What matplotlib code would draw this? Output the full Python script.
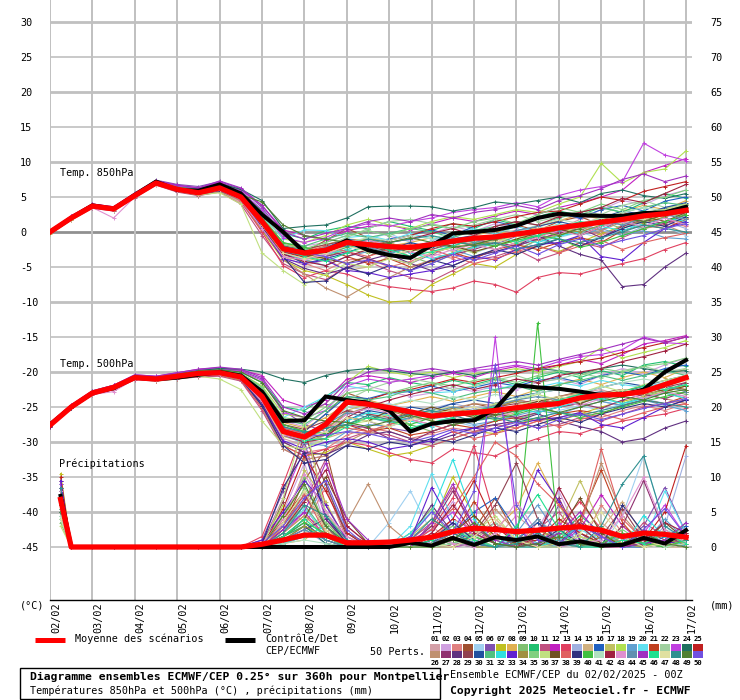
import numpy as np
import matplotlib
matplotlib.use("Agg")
import matplotlib.pyplot as plt
from matplotlib.lines import Line2D
from matplotlib.patches import Rectangle

W, H = 740, 700
MONO = "DejaVu Sans Mono"

# ---------------- data ----------------
days = np.arange(0, 15.01, 0.5)                       # 12-hourly steps from 02/02 00Z
precip_days = np.array([0.25] + list(np.arange(0.5, 15.01, 0.5)))
date_labels = ["02/02", "03/02", "04/02", "05/02", "06/02", "07/02", "08/02", "09/02",
               "10/02", "11/02", "12/02", "13/02", "14/02", "15/02", "16/02", "17/02"]
left_ticks = list(range(-45, 31, 5))
right_ticks = list(range(0, 76, 5))

mean_850 = [0.0, 2.0, 3.7, 3.3, 5.2, 7.0, 6.1, 5.6, 6.3, 5.0, 1.5, -2.4, -3.0, -2.6, -1.5, -1.8,
            -2.1, -2.2, -1.8, -1.3, -0.9, -0.7, -0.3, 0.1, 0.6, 1.0, 1.4, 1.8, 2.3, 2.6, 3.1]
ctrl_850 = [0.0, 2.0, 3.8, 3.3, 5.3, 7.2, 6.0, 5.9, 6.8, 5.5, 2.5, 0.0, -2.9, -2.7, -1.2, -2.6,
            -3.3, -3.7, -1.9, -0.2, 0.0, 0.3, 0.9, 2.0, 2.6, 2.4, 2.3, 2.3, 2.7, 2.8, 3.6]
mean_500 = [-27.6, -25.0, -23.0, -22.2, -20.8, -21.0, -20.6, -20.2, -20.1, -20.7, -23.5, -28.5,
            -29.3, -27.5, -24.3, -24.6, -25.1, -25.7, -26.3, -26.0, -25.8, -25.5, -25.1, -24.8,
            -24.5, -23.7, -23.3, -23.2, -22.8, -21.8, -20.8]
ctrl_500 = [-27.5, -25.0, -23.0, -22.3, -20.8, -21.0, -20.8, -20.4, -20.0, -20.5, -22.8, -27.0,
            -26.9, -23.5, -24.0, -24.4, -25.5, -28.5, -27.4, -27.0, -26.9, -25.3, -21.9, -22.2,
            -22.4, -22.8, -23.3, -23.3, -22.5, -20.0, -18.3]
mean_rr = [6.8, 0, 0, 0, 0, 0, 0, 0, 0, 0, 0.4, 1.0, 1.7, 1.7, 0.6, 0.6, 0.7, 1.0, 1.4, 2.2, 2.7,
           2.5, 2.2, 2.4, 2.7, 2.9, 2.4, 1.5, 2.0, 1.8, 1.4]
ctrl_rr = [7.3, 0, 0, 0, 0, 0, 0, 0, 0, 0, 0, 0, 0, 0, 0, 0, 0, 0.6, 0.2, 1.3, 0.3, 1.4, 1.0, 1.5,
           0.4, 0.8, 0.2, 0.3, 1.3, 0.5, 2.4]

members_850 = [
    [-0.1, 1.8, 3.5, 3.0, 5.0, 6.8, 5.9, 5.2, 5.8, 4.2, 0.5, -3.5, -4.8, -4.0, -2.0, -2.5, -3.5, -2.8, -1.5, -1.0, -1.8, -0.5, 0.3, -0.8, 0.5, 1.8, 2.5, 1.2, 2.0, 3.5, 4.0],
    [0.1, 2.2, 3.9, 3.5, 5.4, 7.2, 6.4, 5.9, 6.6, 5.4, 2.0, -1.8, -2.0, -1.5, -0.5, 0.2, -0.6, -1.3, -0.2, 0.8, 0.1, 1.2, 0.6, 2.1, 2.9, 1.8, 3.2, 4.5, 3.9, 5.2, 6.0],
    [0.0, 2.1, 3.6, 3.4, 5.1, 7.1, 6.2, 5.5, 6.0, 4.6, 0.8, -3.0, -4.5, -5.5, -4.0, -3.8, -5.0, -4.2, -3.0, -3.8, -2.2, -1.5, -2.8, -1.0, -0.4, 0.8, -0.5, 1.0, 2.2, 1.5, 0.8],
    [-0.2, 1.9, 3.8, 3.2, 5.3, 6.9, 6.0, 5.7, 6.4, 5.2, 1.8, -2.2, -2.9, -1.2, 0.5, -0.8, -1.5, -2.8, -1.8, -0.6, 0.4, -0.3, 1.0, 0.2, 1.5, 2.2, 1.0, 2.8, 2.0, 3.0, 2.5],
    [0.2, 2.0, 3.7, 3.3, 5.3, 7.0, 6.5, 6.0, 6.7, 5.5, 1.2, -2.7, -4.0, -3.0, -2.2, -1.0, -0.2, -1.5, -2.5, -1.8, -3.0, -2.0, -1.2, -2.2, -0.8, 0.0, -1.0, 0.5, 1.5, 0.8, -0.5],
    [0.0, 2.3, 4.0, 3.6, 5.6, 7.4, 6.8, 6.5, 7.2, 6.2, 3.5, -0.5, -2.2, -2.8, -1.5, -2.5, -3.8, -4.5, -3.2, -2.0, -1.0, -1.8, -0.6, 0.5, -0.2, 1.2, 0.3, 1.8, 3.0, 2.2, 2.8],
    [-0.1, 1.8, 3.5, 3.1, 5.0, 6.8, 5.8, 5.3, 6.0, 4.5, 0.2, -4.0, -5.5, -6.2, -7.5, -9.0, -10.0, -9.8, -7.5, -6.0, -4.5, -5.0, -3.2, -2.0, -2.8, -1.5, -0.2, 0.8, 1.5, 2.5, 3.5],
    [0.1, 2.1, 3.8, 3.5, 5.4, 7.2, 6.3, 5.8, 6.5, 5.3, 2.2, -1.5, -2.6, -1.8, -1.0, -1.2, -2.0, -1.5, -0.8, -1.5, -0.5, 0.2, -0.5, 0.8, 1.6, 2.5, 1.8, 3.0, 3.8, 3.2, 4.5],
    [0.0, 2.0, 3.6, 3.2, 5.2, 6.9, 6.1, 5.6, 6.2, 4.8, 1.0, -3.2, -3.8, -3.5, -2.5, -3.0, -2.2, -3.5, -4.5, -3.2, -2.0, -1.5, -2.5, -1.2, -0.5, 0.2, 1.5, 0.5, 1.8, 2.8, 2.0],
    [0.2, 2.2, 3.9, 3.4, 5.5, 7.3, 6.6, 6.2, 6.9, 5.9, 3.0, -0.2, -1.0, 0.2, 0.8, 0.5, 1.5, 0.8, 0.2, 1.2, 0.5, 1.8, 1.0, 2.2, 3.0, 2.4, 3.5, 2.8, 4.2, 5.5, 4.8],
    [-0.2, 1.7, 3.4, 3.0, 4.9, 6.7, 5.7, 5.2, 5.7, 4.0, -0.5, -4.5, -6.0, -6.8, -5.0, -4.2, -5.5, -6.5, -7.0, -5.5, -4.0, -3.5, -2.5, -4.0, -3.0, -1.5, -2.2, -0.8, 0.5, 1.2, 2.0],
    [0.1, 2.3, 4.0, 3.6, 5.5, 7.3, 6.7, 6.3, 7.1, 6.0, 3.8, 0.3, -0.5, -1.2, 0.2, 0.8, 1.0, 0.3, 1.2, 2.0, 1.5, 2.3, 3.0, 2.5, 3.5, 4.2, 5.0, 6.0, 8.5, 9.5, 10.5],
    [0.0, 2.0, 3.8, 3.4, 5.2, 7.0, 6.0, 5.4, 6.0, 4.4, 0.0, -4.8, -6.5, -5.5, -6.0, -7.2, -7.8, -8.2, -8.5, -8.0, -7.0, -7.5, -8.6, -6.5, -5.8, -6.0, -5.2, -4.5, -3.8, -2.5, -1.5],
    [-0.1, 1.9, 3.6, 3.3, 5.1, 6.9, 6.0, 5.5, 6.1, 4.9, 1.5, -2.5, -3.2, -2.8, -1.8, -2.6, -1.8, -2.5, -1.2, -0.5, -1.5, -0.8, 0.0, -0.6, 0.3, 1.0, 0.2, -0.5, 0.8, 1.5, 0.5],
    [0.1, 2.1, 3.7, 3.4, 5.3, 7.1, 6.2, 5.7, 6.4, 5.1, 1.6, -2.3, -3.3, -3.8, -5.5, -5.0, -3.5, -2.5, -3.0, -2.0, -1.8, -2.5, -1.5, -0.5, 0.5, 1.2, 2.0, 1.5, 2.5, 3.3, 2.0],
    [0.0, 2.0, 3.7, 3.4, 5.2, 7.0, 6.1, 5.4, 6.1, 5.0, 1.4, -2.8, -3.5, -2.2, -1.0, -1.5, -1.0, -0.5, 0.3, -0.5, 0.8, 1.5, 0.8, 2.0, 2.6, 2.0, 3.2, 3.8, 3.0, 4.4, 5.0],
    [-0.3, 1.7, 3.5, 3.1, 5.0, 6.8, 5.9, 5.3, 5.8, 4.5, 0.5, -3.5, -4.2, -3.5, -2.0, -0.8, -1.5, -2.5, -1.8, -2.8, -1.5, -0.8, -1.8, -0.5, 0.2, 1.0, 1.8, 2.5, 1.5, 2.0, 1.2],
    [0.2, 2.2, 3.9, 3.5, 5.4, 7.2, 6.4, 6.0, 6.7, 5.6, 2.5, -1.0, -1.5, -0.5, 1.0, 1.8, 1.0, 0.5, 1.5, 2.2, 1.8, 2.5, 3.2, 2.8, 4.0, 5.0, 9.8, 7.0, 8.5, 9.0, 11.6],
    [0.0, 2.0, 3.6, 3.2, 5.2, 7.0, 6.0, 5.5, 6.2, 4.7, 1.0, -3.0, -4.0, -4.8, -3.5, -2.8, -3.2, -2.0, -1.5, -2.5, -3.5, -2.8, -2.0, -1.0, -1.8, -0.5, 0.5, -0.5, 0.2, -0.8, -1.0],
    [0.1, 2.1, 3.8, 3.4, 5.3, 7.1, 6.3, 5.8, 6.6, 5.4, 2.3, -1.0, 0.3, 0.2, -0.8, -0.5, -1.2, -0.2, -1.0, -0.5, 0.5, -0.3, 0.8, 0.0, 1.2, 0.5, 1.8, 1.0, 0.5, 1.5, 2.2],
    [0.0, 2.0, 3.7, 3.3, 5.2, 7.0, 6.2, 5.6, 6.3, 5.1, 1.4, -2.6, -3.0, -2.5, -3.5, -4.5, -3.8, -5.0, -4.2, -3.0, -3.8, -2.5, -1.8, -2.5, -1.5, -0.8, -1.5, 0.2, 1.0, 0.5, 1.8],
    [-0.1, 1.9, 3.6, 3.3, 5.1, 6.9, 6.0, 5.6, 6.2, 5.0, 1.2, -2.4, -3.4, -2.0, -0.8, 0.5, 1.5, 1.8, 1.2, 0.5, 1.0, 1.8, 2.5, 1.5, 2.2, 3.0, 2.5, 3.8, 4.5, 3.5, 4.0],
    [0.2, 2.2, 3.9, 3.5, 5.5, 7.3, 6.6, 6.1, 7.0, 5.8, 3.2, -0.8, -1.5, -0.8, 0.5, 1.2, 0.8, 1.5, 2.0, 2.8, 3.2, 3.5, 4.2, 3.6, 5.2, 6.0, 6.5, 7.2, 12.7, 11.0, 10.2],
    [0.0, 2.1, 3.8, 3.4, 5.3, 7.1, 6.4, 6.1, 6.9, 6.1, 4.5, 0.5, 0.8, 1.0, 2.0, 3.6, 3.7, 3.7, 3.6, 3.0, 3.5, 4.3, 4.0, 4.5, 5.0, 4.2, 5.5, 6.0, 5.2, 4.8, 5.5],
    [-0.1, 1.9, 3.6, 3.2, 5.1, 6.9, 5.9, 5.4, 6.0, 4.8, 1.0, -2.9, -3.6, -3.0, -1.8, -2.2, -1.2, -0.5, 0.5, 1.2, 0.8, 1.5, 2.2, 2.8, 3.0, 4.0, 5.0, 4.5, 5.8, 6.5, 7.2],
    [0.1, 2.0, 3.7, 3.3, 5.2, 7.0, 6.1, 5.5, 6.1, 4.8, 0.8, -4.0, -6.0, -8.0, -9.3, -7.5, -6.5, -5.0, -4.0, -3.0, -2.0, -1.5, -0.5, -1.2, 0.0, 0.8, 0.2, 1.5, 0.5, 1.0, -0.2],
    [0.0, 2.1, 3.8, 3.4, 5.3, 7.1, 6.3, 5.8, 6.5, 5.2, 1.8, -2.0, -2.8, -3.5, -2.8, -3.8, -4.8, -5.5, -4.0, -3.2, -2.5, -1.5, -2.0, -1.0, -0.2, 0.5, -0.8, 0.8, 1.8, 1.2, 2.5],
    [-0.2, 1.8, 3.5, 3.1, 5.0, 6.8, 5.8, 5.3, 5.9, 4.6, 0.5, -3.8, -5.2, -6.0, -5.2, -4.0, -3.2, -4.5, -5.5, -4.8, -3.5, -2.8, -2.0, -0.5, -2.0, -3.2, -4.0, -7.8, -7.5, -5.0, -3.0],
    [0.1, 2.1, 3.8, 3.4, 5.3, 7.0, 6.2, 5.7, 6.4, 5.2, 1.9, -2.0, -2.5, -1.8, -1.2, -2.0, -2.8, -2.2, -2.5, -1.5, -1.8, -1.0, -0.2, 0.5, 0.0, 1.2, 1.8, 2.5, 2.0, 3.0, 3.8],
    [0.0, 2.0, 3.7, 3.3, 5.2, 7.0, 6.1, 5.6, 6.3, 5.0, 1.3, -3.0, -4.5, -3.8, -3.0, -1.8, -2.5, -1.5, -2.2, -1.0, -0.5, -1.2, 0.2, 0.8, 1.5, 0.8, 2.0, 3.0, 2.5, 3.5, 4.2],
    [0.1, 2.2, 3.9, 3.5, 5.4, 7.2, 6.4, 6.0, 6.7, 5.5, 2.0, -1.6, -2.0, -1.0, -0.2, -0.8, -0.2, 0.5, 0.0, -0.8, 0.2, 0.8, 1.5, 1.0, 2.0, 2.8, 3.5, 2.8, 3.5, 4.2, 3.8],
    [0.0, 2.0, 3.7, 3.3, 5.2, 7.0, 6.2, 5.6, 6.3, 5.1, 1.7, -2.2, -2.5, -3.2, -2.5, -1.5, -2.0, -3.0, -3.8, -3.0, -2.2, -1.8, -1.0, -1.5, -0.6, 0.0, 0.8, 0.2, 1.2, 2.0, 1.5],
    [-0.1, 1.9, 3.6, 3.2, 5.1, 6.9, 6.0, 5.4, 6.1, 4.8, 0.6, -3.8, -4.5, -4.0, -5.5, -5.8, -6.5, -6.0, -5.5, -4.2, -3.5, -4.0, -2.5, -1.8, -1.5, -0.5, -3.5, -4.0, -1.5, 0.5, 1.5],
    [0.0, 2.0, 3.7, 3.3, 5.2, 7.0, 6.1, 5.6, 6.3, 4.9, 1.1, -2.7, -3.3, -2.5, -1.8, -1.0, -1.8, -2.8, -2.0, -1.2, -2.0, -1.2, -0.2, -0.8, 0.5, 0.0, 1.0, 1.8, 1.2, 2.2, 3.0],
    [0.2, 2.1, 3.8, 3.4, 5.3, 7.1, 6.3, 5.9, 6.6, 5.4, 2.1, -1.8, -2.4, -1.5, -0.5, 0.2, -0.5, 0.5, 1.0, 0.5, 1.5, 2.0, 1.2, 2.5, 3.5, 2.8, 4.0, 3.2, 4.5, 5.0, 6.0],
    [0.0, 1.9, 3.6, 3.2, 5.1, 6.8, 5.8, 5.3, 5.6, 4.0, -3.0, -5.5, -7.5, -6.0, -4.5, -5.0, -3.8, -4.5, -3.0, -2.2, -3.0, -1.8, -1.0, 0.2, -0.5, 1.0, 2.0, 1.2, 2.8, 3.2, 4.0],
    [-0.1, 1.9, 3.6, 3.3, 5.1, 6.9, 6.0, 5.6, 6.2, 5.0, 1.3, -2.5, -3.2, -3.8, -4.5, -3.5, -2.2, -2.8, -1.5, -2.0, -2.8, -2.0, -1.0, -0.2, 0.5, -0.5, 0.8, 1.5, 2.2, 1.5, 2.8],
    [0.1, 2.1, 3.8, 3.4, 5.3, 7.1, 6.2, 5.7, 6.4, 5.1, 1.6, -2.2, -2.8, -2.0, -2.8, -3.5, -2.5, -1.8, -2.5, -3.5, -4.5, -3.8, -2.8, -2.0, -3.0, -2.0, -1.2, -2.5, -1.5, -0.8, -0.2],
    [0.0, 2.0, 3.7, 3.3, 5.2, 7.0, 6.1, 5.6, 6.2, 4.9, 0.8, -3.5, -7.2, -7.0, -5.0, -6.0, -4.8, -5.5, -4.0, -4.8, -3.5, -2.5, -3.2, -2.0, -1.0, -2.0, -0.8, 0.5, 1.5, 0.8, 2.2],
    [0.0, 2.1, 3.8, 3.4, 5.3, 7.1, 6.3, 5.8, 6.5, 5.3, 1.9, -1.5, -2.2, -3.0, -2.2, -1.5, -2.0, -2.5, -1.8, -1.0, -1.5, -2.0, -1.2, -0.5, -1.0, -2.2, -1.5, -0.5, 0.5, 1.5, 2.5],
    [-0.1, 1.9, 3.6, 3.2, 5.1, 6.9, 6.0, 5.5, 6.2, 5.0, 1.2, -2.6, -3.0, -2.5, -1.5, -0.8, -1.2, -0.5, -1.0, 0.0, -0.5, 0.5, 0.0, 1.0, 1.8, 1.2, 2.0, 2.8, 3.5, 3.0, 3.8],
    [0.1, 2.0, 3.7, 3.3, 5.2, 7.0, 6.1, 5.6, 6.3, 5.0, 1.0, -3.2, -4.2, -4.8, -3.5, -2.5, -1.5, -1.0, -0.2, 0.5, -0.5, 0.8, 1.5, 1.0, 2.2, 2.8, 3.5, 4.8, 4.2, 5.5, 6.8],
    [0.0, 2.0, 3.5, 2.0, 5.0, 6.8, 5.8, 5.4, 6.0, 4.6, 0.5, -3.5, -4.0, -3.2, -2.0, -1.2, -1.8, -2.8, -3.5, -2.5, -1.8, -2.5, -1.5, -0.8, 0.2, -0.5, 0.8, 1.5, 0.8, 2.0, 1.0],
    [0.0, 2.1, 3.8, 3.4, 5.3, 7.0, 6.2, 5.7, 6.4, 5.0, 1.4, -2.4, -3.0, -2.2, -1.5, -2.2, -3.0, -2.2, -1.5, -0.8, -1.5, -0.8, 0.2, 0.8, 0.2, 1.0, 1.6, 1.0, 2.0, 2.5, 1.8],
    [0.2, 2.2, 3.9, 3.5, 5.5, 7.3, 6.7, 6.3, 7.3, 6.3, 3.8, 0.0, -1.0, -0.2, 0.5, 1.5, 2.0, 1.5, 2.5, 2.0, 2.8, 3.2, 3.8, 3.2, 4.5, 5.2, 6.2, 7.5, 8.3, 7.2, 8.0],
    [0.0, 2.0, 3.7, 3.3, 5.2, 7.0, 6.1, 5.6, 6.3, 5.0, 1.5, -2.5, -3.5, -4.2, -3.0, -2.0, -2.5, -3.5, -2.8, -2.0, -1.0, -0.5, -1.5, -0.5, 0.5, 1.5, 1.0, 2.2, 3.0, 2.5, 3.2],
    [-0.1, 1.9, 3.6, 3.2, 5.1, 6.9, 6.0, 5.5, 6.1, 4.8, 1.0, -3.0, -3.8, -3.0, -2.0, -2.8, -3.5, -2.5, -1.8, -1.2, -0.8, -1.5, -0.5, 0.5, 1.0, 0.5, 1.5, 2.2, 1.8, 2.8, 3.5],
    [0.1, 2.1, 3.8, 3.4, 5.3, 7.1, 6.3, 5.8, 6.5, 5.2, 1.7, -2.0, -2.8, -2.5, -2.0, -1.0, -1.5, -1.0, -0.5, -1.2, -2.0, -1.5, -2.5, -1.8, -1.0, -1.5, -0.8, 0.0, 1.0, 0.5, 0.0],
    [0.0, 2.0, 3.7, 3.3, 5.2, 7.0, 6.2, 5.7, 6.4, 5.3, 4.3, 1.0, -0.5, -1.0, -1.5, -2.0, -1.5, -0.8, -1.5, -2.2, -1.8, -1.0, -0.2, 0.2, -0.5, 0.5, 1.5, 2.0, 1.5, 2.5, 3.0],
    [0.1, 2.1, 3.8, 3.4, 5.3, 7.1, 6.3, 5.8, 6.5, 5.2, 1.6, -2.3, -3.0, -3.5, -4.5, -4.0, -4.8, -5.5, -4.5, -3.2, -4.0, -3.0, -2.0, -3.2, -1.8, -1.0, -2.0, -1.2, -0.5, 0.5, 1.2],
]

members_500 = [
    [-27.8, -25.2, -23.2, -22.5, -21.0, -21.3, -20.9, -20.5, -20.4, -21.0, -24.5, -29.5, -30.5, -29.0, -25.5, -26.0, -26.8, -27.0, -26.5, -25.8, -26.5, -25.5, -24.8, -25.5, -24.0, -23.0, -22.5, -23.5, -22.8, -21.5, -20.5],
    [-27.4, -24.8, -22.9, -22.0, -20.6, -20.9, -20.4, -20.0, -19.9, -20.4, -22.5, -27.0, -27.8, -25.5, -22.5, -22.0, -22.8, -23.5, -23.0, -22.2, -22.8, -22.0, -22.5, -21.5, -21.0, -21.8, -20.5, -19.5, -20.2, -19.0, -18.0],
    [-27.6, -25.0, -23.1, -22.3, -20.9, -21.1, -20.7, -20.3, -20.3, -21.0, -24.8, -30.0, -31.5, -31.0, -29.0, -28.0, -28.5, -29.5, -28.8, -28.0, -28.5, -27.5, -28.0, -27.0, -26.5, -25.8, -26.5, -25.5, -24.8, -25.5, -24.5],
    [-27.5, -24.9, -22.8, -22.1, -20.7, -20.9, -20.5, -20.1, -20.0, -20.5, -23.0, -27.5, -28.5, -26.0, -23.0, -24.0, -25.0, -26.5, -26.0, -25.5, -24.5, -25.2, -24.0, -24.5, -23.5, -22.8, -23.5, -22.5, -23.0, -22.0, -22.5],
    [-27.7, -25.1, -23.0, -22.2, -20.8, -21.0, -20.5, -20.0, -19.8, -20.3, -23.2, -28.5, -29.8, -28.0, -26.0, -25.2, -24.5, -25.5, -26.5, -27.0, -27.8, -27.0, -26.2, -26.8, -25.5, -24.8, -25.5, -24.5, -23.8, -24.5, -25.5],
    [-27.5, -24.9, -22.9, -22.0, -20.5, -20.7, -20.2, -19.7, -19.5, -19.8, -21.0, -25.5, -27.5, -28.5, -26.5, -27.0, -28.0, -28.5, -27.5, -26.5, -25.8, -26.0, -25.0, -24.2, -24.8, -23.5, -24.0, -23.0, -22.0, -22.8, -21.5],
    [-27.7, -25.1, -23.2, -22.4, -21.0, -21.3, -21.0, -20.6, -20.5, -21.2, -25.0, -30.5, -32.0, -31.5, -30.0, -31.0, -32.0, -31.5, -30.5, -29.5, -28.5, -28.8, -27.5, -26.5, -27.0, -26.0, -25.0, -24.2, -23.5, -22.8, -22.0],
    [-27.5, -24.9, -22.9, -22.1, -20.7, -20.9, -20.5, -20.1, -20.0, -20.5, -22.8, -27.2, -28.0, -26.5, -24.5, -24.0, -24.8, -24.2, -23.5, -24.2, -23.5, -22.8, -23.5, -22.5, -21.8, -21.0, -21.8, -20.8, -20.0, -20.8, -19.5],
    [-27.6, -25.0, -23.0, -22.2, -20.8, -21.0, -20.6, -20.2, -20.1, -20.8, -24.0, -29.0, -30.0, -29.0, -26.5, -27.0, -26.0, -27.5, -28.5, -27.5, -26.8, -26.0, -26.8, -25.8, -25.0, -24.5, -23.5, -24.5, -23.5, -22.5, -23.2],
    [-27.4, -24.8, -22.7, -21.9, -20.5, -20.7, -20.2, -19.8, -19.6, -20.0, -21.5, -25.0, -25.5, -23.5, -21.5, -21.8, -20.8, -21.5, -22.0, -21.2, -21.8, -21.0, -21.8, -20.8, -20.0, -20.8, -19.8, -20.5, -19.0, -18.5, -19.2],
    [-27.8, -25.2, -23.3, -22.5, -21.1, -21.3, -21.0, -20.7, -20.6, -21.3, -25.5, -31.0, -32.5, -32.0, -29.5, -28.5, -29.0, -30.0, -30.5, -29.5, -28.5, -28.0, -27.0, -28.0, -27.5, -26.5, -27.0, -26.0, -25.0, -24.5, -24.0],
    [-27.4, -24.8, -22.8, -21.9, -20.4, -20.6, -20.1, -19.6, -19.4, -19.7, -20.5, -24.0, -25.0, -24.0, -21.0, -20.5, -21.0, -21.5, -20.8, -20.2, -20.8, -19.8, -19.2, -19.8, -19.0, -18.2, -18.8, -17.5, -16.0, -15.5, -14.8],
    [-27.6, -25.0, -23.1, -22.4, -21.0, -21.2, -20.8, -20.4, -20.3, -21.1, -25.2, -30.5, -32.0, -31.0, -30.0, -30.5, -31.5, -32.5, -33.0, -31.0, -31.5, -32.0, -30.5, -29.5, -28.5, -28.8, -27.8, -27.0, -26.5, -26.0, -25.2],
    [-27.5, -24.9, -22.9, -22.2, -20.8, -21.0, -20.6, -20.2, -20.1, -20.6, -23.5, -28.0, -29.0, -28.0, -25.0, -25.5, -25.0, -25.8, -25.2, -24.5, -25.2, -24.8, -24.0, -24.8, -24.2, -23.5, -24.2, -24.8, -23.5, -23.0, -23.5],
    [-27.6, -25.0, -23.0, -22.2, -20.8, -21.0, -20.6, -20.2, -20.1, -20.6, -23.2, -28.2, -29.5, -29.5, -28.5, -29.0, -27.5, -26.5, -26.8, -25.8, -26.2, -26.5, -25.8, -24.8, -24.0, -23.5, -22.8, -23.5, -22.5, -21.8, -22.8],
    [-27.5, -24.9, -22.9, -22.1, -20.7, -20.9, -20.5, -20.1, -20.0, -20.6, -23.0, -28.0, -28.5, -26.0, -23.5, -23.8, -23.0, -22.8, -22.0, -22.8, -22.2, -21.5, -22.0, -21.2, -20.8, -21.5, -20.5, -20.0, -20.5, -19.5, -19.0],
    [-27.7, -25.1, -23.1, -22.3, -20.9, -21.1, -20.7, -20.4, -20.3, -20.8, -24.2, -29.2, -30.0, -28.5, -25.5, -24.5, -25.2, -26.0, -25.5, -26.5, -25.8, -25.0, -25.8, -24.8, -24.2, -23.8, -23.0, -22.5, -23.5, -23.0, -23.8],
    [-27.4, -24.8, -22.8, -22.0, -20.6, -20.8, -20.3, -19.9, -19.7, -20.2, -22.0, -26.0, -26.5, -24.5, -21.5, -19.2, -20.0, -20.5, -20.0, -20.8, -20.2, -20.0, -19.5, -20.0, -19.2, -18.5, -16.5, -18.0, -17.2, -16.5, -15.5],
    [-27.6, -25.0, -23.0, -22.2, -20.8, -21.0, -20.6, -20.2, -20.1, -20.8, -24.0, -29.0, -30.2, -30.5, -28.5, -27.5, -27.8, -26.8, -26.0, -26.8, -27.5, -27.0, -26.2, -25.5, -26.0, -25.0, -24.2, -24.8, -24.0, -24.8, -25.5],
    [-27.5, -24.9, -22.9, -22.1, -20.6, -20.8, -20.4, -20.0, -19.8, -20.3, -22.5, -26.5, -25.0, -23.5, -22.0, -22.5, -23.2, -22.5, -23.0, -22.8, -22.0, -22.5, -21.8, -22.2, -21.5, -22.0, -21.2, -21.8, -22.2, -21.5, -20.8],
    [-27.6, -25.0, -23.0, -22.2, -20.8, -21.0, -20.6, -20.2, -20.1, -20.7, -23.5, -28.5, -29.0, -28.0, -27.5, -28.5, -28.0, -29.0, -28.5, -27.5, -28.0, -27.0, -26.5, -27.0, -26.0, -25.5, -26.0, -24.8, -24.0, -24.5, -23.5],
    [-27.6, -25.0, -23.0, -22.3, -20.9, -21.1, -20.7, -20.3, -20.2, -20.8, -23.8, -28.8, -29.5, -27.0, -24.0, -22.5, -21.5, -21.0, -21.5, -22.5, -22.0, -21.2, -20.5, -21.5, -21.0, -20.2, -20.8, -19.8, -19.2, -20.0, -19.5],
    [-27.3, -24.7, -22.7, -21.9, -20.5, -20.7, -20.2, -19.7, -19.5, -19.9, -21.2, -25.8, -26.5, -25.5, -22.0, -21.0, -21.5, -21.0, -20.5, -20.0, -19.8, -19.5, -19.0, -19.5, -18.5, -17.8, -17.5, -16.8, -15.0, -15.8, -16.0],
    [-27.5, -24.9, -22.8, -22.0, -20.6, -20.8, -20.3, -19.8, -19.5, -19.6, -20.0, -21.0, -21.5, -20.5, -19.8, -19.5, -19.8, -20.2, -20.5, -20.0, -20.5, -19.8, -20.0, -19.5, -19.8, -20.2, -19.5, -19.0, -19.5, -20.0, -19.8],
    [-27.6, -25.0, -23.0, -22.3, -20.9, -21.1, -20.7, -20.3, -20.2, -20.8, -23.8, -28.8, -29.5, -27.5, -24.5, -24.0, -23.0, -22.5, -21.8, -21.0, -21.5, -20.8, -20.2, -19.5, -19.0, -18.5, -18.0, -17.2, -16.5, -15.8, -15.0],
    [-27.6, -25.0, -23.1, -22.3, -20.9, -21.1, -20.7, -20.4, -20.3, -21.0, -25.0, -31.0, -32.5, -32.0, -30.0, -28.5, -27.5, -26.5, -26.0, -25.2, -24.5, -24.8, -24.0, -24.5, -23.5, -23.0, -23.5, -22.8, -23.2, -23.8, -24.5],
    [-27.5, -24.9, -22.9, -22.1, -20.7, -20.9, -20.5, -20.1, -20.0, -20.6, -23.0, -27.8, -28.8, -29.0, -27.5, -28.0, -29.5, -30.0, -28.5, -27.5, -27.0, -26.0, -26.5, -25.8, -25.0, -24.5, -25.2, -24.0, -23.2, -23.8, -22.8],
    [-27.8, -25.2, -23.2, -22.4, -21.0, -21.2, -20.9, -20.5, -20.4, -21.0, -24.5, -30.0, -31.5, -31.8, -30.5, -29.0, -28.5, -29.5, -30.0, -29.0, -28.0, -27.5, -27.0, -26.0, -27.0, -27.8, -28.5, -30.0, -29.5, -28.0, -27.0],
    [-27.5, -24.9, -22.9, -22.1, -20.7, -20.9, -20.5, -20.1, -20.0, -20.5, -22.8, -27.5, -28.2, -27.0, -25.5, -26.0, -26.5, -26.0, -26.5, -25.5, -25.8, -25.0, -24.5, -24.0, -24.5, -23.5, -23.0, -22.5, -23.0, -22.2, -21.5],
    [-27.6, -25.0, -23.0, -22.2, -20.8, -21.0, -20.6, -20.2, -20.1, -20.7, -23.5, -28.8, -30.0, -28.5, -27.0, -25.5, -26.0, -25.0, -25.5, -24.5, -24.0, -24.5, -23.5, -23.0, -22.5, -23.0, -22.2, -21.5, -22.0, -21.2, -20.5],
    [-27.4, -24.8, -22.8, -22.0, -20.6, -20.8, -20.4, -19.9, -19.8, -20.2, -22.2, -26.8, -27.5, -25.5, -23.5, -24.0, -23.5, -22.5, -23.0, -23.8, -23.0, -22.5, -22.0, -22.8, -21.8, -21.2, -20.5, -21.2, -20.5, -19.8, -20.5],
    [-27.5, -24.9, -22.9, -22.1, -20.7, -20.9, -20.5, -20.1, -20.0, -20.6, -23.0, -28.0, -28.5, -28.8, -27.0, -25.8, -26.2, -27.0, -27.8, -27.0, -26.5, -26.0, -25.2, -25.8, -25.0, -24.2, -23.8, -24.5, -23.8, -23.0, -23.8],
    [-27.7, -25.1, -23.1, -22.3, -20.9, -21.1, -20.8, -20.4, -20.3, -20.9, -24.8, -29.8, -31.0, -30.0, -29.5, -30.0, -31.0, -30.5, -29.8, -28.5, -28.0, -28.5, -27.5, -26.8, -26.5, -25.8, -27.5, -28.0, -26.5, -25.0, -24.0],
    [-27.6, -25.0, -23.0, -22.2, -20.8, -21.0, -20.6, -20.2, -20.1, -20.7, -23.6, -28.6, -29.5, -28.0, -26.0, -25.0, -25.5, -26.5, -26.0, -25.2, -25.8, -25.0, -24.2, -24.8, -23.8, -24.2, -23.5, -22.8, -23.2, -22.5, -21.8],
    [-27.4, -24.8, -22.8, -22.0, -20.6, -20.8, -20.4, -20.0, -19.8, -20.3, -22.2, -26.5, -27.0, -25.0, -23.0, -22.5, -23.0, -22.2, -21.5, -22.0, -21.2, -20.8, -21.5, -20.5, -19.8, -20.5, -19.5, -20.0, -19.2, -18.8, -18.0],
    [-27.6, -25.1, -23.1, -22.3, -20.9, -21.2, -20.9, -20.6, -21.0, -22.5, -27.0, -30.5, -31.0, -29.5, -27.5, -27.0, -26.0, -26.8, -25.5, -25.0, -25.8, -24.5, -24.0, -23.2, -24.0, -23.0, -22.0, -22.8, -21.8, -21.2, -20.5],
    [-27.5, -24.9, -22.9, -22.1, -20.7, -20.9, -20.5, -20.1, -20.0, -20.6, -23.5, -28.5, -29.5, -29.0, -26.5, -27.0, -25.5, -26.0, -25.0, -25.8, -26.5, -26.0, -25.0, -24.2, -23.5, -24.5, -23.5, -22.8, -22.0, -22.8, -22.0],
    [-27.6, -25.0, -23.0, -22.2, -20.8, -21.0, -20.6, -20.2, -20.1, -20.7, -23.2, -28.0, -28.8, -27.5, -28.0, -28.5, -27.5, -26.8, -27.5, -28.5, -29.5, -28.8, -28.0, -27.0, -27.8, -26.8, -26.0, -26.8, -25.8, -25.0, -24.5],
    [-27.7, -25.1, -23.1, -22.3, -20.9, -21.1, -20.7, -20.3, -20.2, -20.9, -24.8, -30.5, -33.0, -32.5, -30.5, -31.0, -30.0, -30.5, -29.5, -30.0, -29.0, -28.0, -28.5, -27.5, -26.5, -27.2, -26.0, -25.2, -24.5, -25.0, -24.0],
    [-27.5, -24.9, -22.9, -22.1, -20.7, -20.9, -20.5, -20.1, -20.0, -20.5, -22.8, -27.5, -28.5, -28.8, -27.5, -26.5, -27.0, -27.5, -26.5, -25.8, -26.2, -26.8, -26.0, -25.2, -25.8, -26.5, -25.8, -25.0, -24.2, -23.5, -22.8],
    [-27.6, -25.0, -23.0, -22.2, -20.8, -21.0, -20.6, -20.2, -20.1, -20.7, -23.5, -28.2, -29.0, -27.8, -25.0, -24.2, -24.8, -24.0, -24.5, -23.5, -24.0, -23.2, -23.8, -23.0, -22.5, -23.0, -22.2, -21.5, -21.0, -21.5, -20.8],
    [-27.5, -24.9, -22.9, -22.1, -20.7, -20.9, -20.5, -20.1, -20.0, -20.6, -23.8, -29.0, -30.0, -29.5, -26.5, -25.0, -24.0, -23.2, -22.5, -21.8, -22.5, -21.8, -21.0, -21.5, -20.5, -20.0, -19.5, -18.5, -17.8, -17.0, -16.0],
    [-27.6, -25.0, -23.2, -22.8, -21.0, -21.2, -20.8, -20.4, -20.4, -21.0, -24.2, -29.0, -29.8, -28.5, -26.0, -25.2, -25.8, -26.8, -27.5, -26.5, -25.8, -26.5, -25.5, -24.8, -24.0, -24.8, -23.8, -23.0, -23.8, -22.8, -23.5],
    [-27.5, -24.9, -22.9, -22.1, -20.7, -20.9, -20.5, -20.1, -20.0, -20.6, -23.2, -28.2, -29.0, -27.5, -25.8, -26.5, -27.2, -26.5, -25.8, -25.0, -25.5, -24.8, -24.0, -23.5, -24.0, -23.2, -22.8, -23.5, -22.5, -22.0, -22.8],
    [-27.3, -24.7, -22.7, -21.9, -20.4, -20.6, -20.1, -19.6, -19.3, -19.6, -20.8, -25.0, -26.0, -24.5, -21.5, -20.0, -19.5, -20.0, -19.5, -20.0, -19.5, -19.0, -18.5, -19.0, -18.2, -17.5, -16.8, -16.0, -15.2, -15.8, -15.0],
    [-27.6, -25.0, -23.0, -22.2, -20.8, -21.0, -20.6, -20.2, -20.1, -20.7, -23.5, -28.6, -29.8, -29.5, -27.8, -26.5, -27.0, -28.0, -27.2, -26.5, -25.5, -25.0, -25.8, -24.8, -24.0, -23.2, -23.8, -22.8, -22.0, -22.5, -21.8],
    [-27.6, -25.0, -23.1, -22.3, -20.9, -21.1, -20.7, -20.3, -20.2, -20.8, -23.8, -28.8, -29.6, -28.5, -26.5, -27.0, -27.8, -26.8, -26.0, -25.5, -25.0, -25.8, -24.8, -24.0, -23.5, -24.2, -23.2, -22.5, -23.0, -22.0, -21.2],
    [-27.5, -24.9, -22.9, -22.1, -20.7, -20.9, -20.5, -20.1, -20.0, -20.5, -23.0, -27.8, -28.6, -28.0, -27.5, -26.2, -26.8, -26.0, -25.5, -26.2, -27.0, -26.5, -27.2, -26.5, -25.8, -26.2, -25.5, -24.8, -24.0, -24.5, -25.0],
    [-27.5, -24.9, -22.9, -22.1, -20.6, -20.8, -20.4, -19.9, -19.7, -20.0, -21.5, -25.5, -26.5, -27.0, -27.2, -27.8, -27.0, -26.2, -27.0, -27.5, -27.0, -26.2, -25.5, -25.0, -25.8, -25.0, -24.2, -23.5, -24.0, -23.0, -22.5],
    [-27.5, -24.9, -22.9, -22.1, -20.7, -20.9, -20.5, -20.1, -20.0, -20.6, -23.2, -28.2, -29.2, -29.0, -28.5, -28.8, -29.5, -30.0, -29.2, -28.2, -28.8, -28.0, -27.2, -28.0, -26.8, -26.0, -26.8, -26.0, -25.2, -24.5, -23.8],
]

Z9 = [0, 0, 0, 0, 0, 0, 0, 0, 0]
members_rr = [
    [6.5] + Z9 + [0, 2.5, 6.0, 1.0, 0, 0, 0.5, 1.5, 3.0, 0.5, 0, 1.2, 4.5, 2.0, 0, 0.8, 3.5, 1.0, 0, 2.0, 0.5],
    [8.0] + Z9 + [0, 5.0, 12.0, 3.0, 0, 0, 0, 0.5, 2.0, 6.5, 1.0, 0, 0.5, 2.5, 8.0, 1.5, 0, 0, 1.5, 0.5, 3.0],
    [5.5] + Z9 + [0.5, 1.5, 3.0, 8.5, 1.0, 0, 0, 0, 1.0, 4.0, 2.5, 0.5, 0, 3.5, 1.0, 0, 6.0, 2.0, 0.5, 0, 1.0],
    [9.5] + Z9 + [0, 3.0, 9.5, 14.0, 2.0, 0.5, 0, 1.0, 0.5, 0, 2.5, 7.0, 1.5, 0, 0.5, 4.0, 1.0, 0, 2.5, 1.0, 0],
    [4.5] + Z9 + [0, 0.5, 2.0, 1.5, 0, 0, 3.5, 8.0, 2.0, 0.5, 1.0, 0, 0.5, 2.0, 0, 1.5, 0, 4.5, 13.0, 3.0, 0.5],
    [7.5] + Z9 + [1.0, 8.0, 15.0, 5.0, 0.5, 0, 0, 0, 0, 0.5, 1.5, 3.5, 0.5, 0, 6.0, 2.0, 0, 0.5, 3.0, 8.5, 2.0],
    [10.5] + Z9 + [0, 2.0, 4.5, 2.5, 0, 0, 0, 0.5, 3.0, 10.0, 4.5, 1.0, 0, 0.5, 2.5, 0.5, 0, 3.0, 1.0, 0, 0.5],
    [6.0] + Z9 + [0, 0.5, 1.0, 3.5, 0.5, 0, 0, 0, 0.5, 1.5, 0, 2.5, 5.5, 12.0, 6.0, 1.5, 0.5, 0, 0.5, 2.0, 0.5],
    [3.5] + Z9 + [0.5, 4.5, 10.0, 3.0, 0, 0, 0, 2.0, 5.5, 1.0, 0, 0, 0.5, 1.5, 0, 0.5, 2.0, 0.5, 0, 1.0, 2.5],
    [7.0] + Z9 + [0, 1.5, 3.0, 1.0, 0, 0, 0, 0, 0, 0.5, 2.0, 0.5, 0, 0, 1.5, 4.5, 2.0, 0, 0.5, 0, 1.0],
    [8.5] + Z9 + [0, 3.5, 6.5, 12.5, 3.0, 0.5, 0, 1.0, 3.5, 8.5, 2.0, 0.5, 0, 2.5, 5.0, 1.0, 0, 0, 3.5, 1.5, 0],
    [5.0] + Z9 + [0, 2.0, 5.0, 1.5, 0, 0, 0, 0, 1.0, 0, 0.5, 3.0, 1.0, 0, 0.5, 2.5, 7.5, 3.0, 0.5, 0, 0.5],
    [7.5] + Z9 + [1.5, 9.0, 17.0, 6.0, 1.0, 0, 0, 0.5, 2.5, 7.0, 14.5, 4.0, 1.0, 0.5, 3.0, 6.5, 2.5, 0.5, 1.5, 0, 2.0],
    [6.5] + Z9 + [0, 1.0, 2.5, 0.5, 0, 0, 0, 1.5, 0.5, 0, 2.0, 0.5, 0, 4.0, 1.5, 0, 0.5, 1.5, 0, 3.0, 13.0],
    [4.0] + Z9 + [0, 2.5, 7.0, 4.0, 0.5, 0, 0, 0, 1.5, 3.0, 1.0, 0, 0.5, 0, 1.0, 0, 2.5, 6.5, 1.5, 0, 0],
    [9.0] + Z9 + [0, 0.5, 1.5, 2.0, 0, 0, 0, 0, 0.5, 2.0, 5.0, 7.0, 2.5, 0.5, 0, 1.0, 0.5, 0, 0, 1.5, 3.0],
    [7.0] + Z9 + [0, 3.0, 11.0, 6.5, 0.5, 0, 0, 1.5, 4.0, 2.0, 0.5, 0, 0, 1.0, 3.0, 9.5, 3.0, 0.5, 0, 2.5, 0.5],
    [5.5] + Z9 + [0.5, 6.0, 3.5, 1.0, 0, 0, 0, 0, 0, 1.0, 3.0, 0.5, 0, 1.5, 0.5, 0, 1.0, 0, 0.5, 0, 1.5],
    [8.0] + Z9 + [0, 1.5, 4.0, 9.0, 2.0, 0, 0.5, 0, 0.5, 3.5, 1.0, 0, 2.0, 6.0, 1.5, 0, 0, 2.0, 0.5, 4.0, 1.0],
    [6.0] + Z9 + [0, 2.0, 5.5, 2.0, 0, 0, 0, 3.0, 10.5, 4.0, 0.5, 0, 1.5, 0.5, 0, 2.5, 1.0, 0, 0.5, 8.0, 2.0],
    [7.0] + Z9 + [0, 4.0, 8.0, 2.5, 0, 0, 0, 0, 0.5, 1.5, 6.5, 2.0, 0, 0, 1.0, 4.0, 11.0, 3.5, 0, 0.5, 1.5],
    [4.5] + Z9 + [0, 0.5, 2.0, 5.0, 1.0, 0, 0, 0.5, 0, 0, 1.0, 3.5, 1.0, 0, 0.5, 0, 1.5, 0.5, 0, 2.5, 1.0],
    [9.0] + Z9 + [0.5, 7.0, 14.0, 4.0, 1.0, 0, 0, 1.0, 2.5, 5.0, 1.5, 30.0, 3.0, 0, 3.5, 0.5, 0, 1.0, 2.0, 6.0, 1.5],
    [5.0] + Z9 + [0, 1.0, 3.0, 0.5, 0, 0, 0, 0, 0, 0.5, 0, 1.5, 0.5, 0, 0, 2.0, 0.5, 0, 0.5, 0, 0.5],
    [10.0] + Z9 + [0, 5.5, 13.0, 8.0, 2.0, 0, 0, 0, 1.5, 4.0, 9.5, 3.0, 0.5, 1.0, 4.0, 2.0, 0.5, 0, 1.0, 5.0, 14.5],
    [6.0] + Z9 + [0, 2.0, 4.5, 1.5, 3.5, 9.0, 3.0, 0.5, 0, 0, 1.5, 5.5, 2.0, 0, 0.5, 3.0, 12.0, 4.5, 1.0, 0, 0.5],
    [7.5] + Z9 + [0, 3.5, 7.5, 3.0, 0, 0, 0, 0.5, 3.0, 8.0, 3.0, 0.5, 0, 2.0, 7.0, 1.0, 0, 3.0, 9.5, 2.0, 0],
    [5.0] + Z9 + [0, 1.0, 2.5, 4.0, 0.5, 0, 0, 1.5, 6.0, 2.0, 0.5, 0, 1.0, 0, 0.5, 3.5, 1.5, 0, 0.5, 1.0, 0],
    [8.0] + Z9 + [0.5, 6.5, 16.0, 9.0, 1.5, 0, 0, 0, 1.0, 0, 2.0, 6.0, 12.0, 4.0, 0.5, 0, 1.5, 5.5, 1.0, 0, 2.5],
    [6.5] + Z9 + [0, 1.5, 3.5, 1.0, 0, 0, 0, 0, 0.5, 2.5, 0.5, 0, 1.0, 3.5, 1.0, 0, 0, 0.5, 2.0, 0.5, 0],
    [7.0] + Z9 + [0, 2.5, 6.0, 2.0, 0, 0, 0, 0, 0, 1.0, 3.0, 1.0, 0, 0.5, 2.0, 0.5, 0, 1.5, 0, 0.5, 3.5],
    [4.0] + Z9 + [0, 0.5, 1.5, 3.0, 0.5, 0, 0, 2.0, 5.0, 12.5, 4.0, 0.5, 0, 0, 1.0, 3.0, 0.5, 0, 4.5, 1.5, 0],
    [9.5] + Z9 + [1.0, 5.0, 9.5, 6.0, 1.0, 0, 0, 1.0, 8.5, 3.0, 0.5, 0, 2.5, 11.0, 6.5, 1.0, 0, 0.5, 2.0, 0.5, 1.0],
    [6.0] + Z9 + [0, 1.0, 3.0, 1.5, 0, 0, 0, 0, 0.5, 1.5, 0, 0, 0.5, 2.5, 1.0, 0, 1.5, 0.5, 0, 1.0, 0.5],
    [5.5] + Z9 + [0, 2.0, 8.5, 3.5, 0.5, 0, 0, 0, 1.0, 3.0, 1.5, 0, 0.5, 1.5, 0.5, 0, 0.5, 2.5, 0.5, 0, 1.0],
    [3.0] + Z9 + [0, 7.0, 18.0, 5.0, 0.5, 0, 0, 0, 0, 0.5, 2.0, 4.5, 1.0, 0, 0.5, 1.5, 0.5, 0, 1.0, 0, 0.5],
    [7.5] + Z9 + [0, 1.5, 4.0, 10.0, 4.0, 0.5, 0, 0, 0.5, 2.0, 4.5, 1.5, 0.5, 0, 2.0, 7.0, 2.0, 0, 0.5, 3.5, 1.0],
    [6.0] + Z9 + [0, 3.0, 7.5, 2.0, 0, 0, 0, 0.5, 2.5, 5.5, 10.0, 15.0, 13.0, 9.0, 6.0, 3.0, 14.0, 4.0, 1.0, 0.5, 0],
    [8.5] + Z9 + [0.5, 8.5, 13.5, 4.5, 0.5, 0, 0, 0, 1.0, 3.5, 1.0, 0, 0, 0.5, 2.5, 0.5, 0, 6.0, 2.0, 0.5, 0],
    [5.0] + Z9 + [0, 1.5, 3.5, 2.0, 0.5, 0, 0, 1.0, 0, 0.5, 1.5, 0.5, 0, 32.0, 1.0, 0, 0.5, 2.0, 0.5, 0, 1.0],
    [4.5] + Z9 + [0, 0.5, 1.0, 0.5, 0, 0, 0, 0, 0, 0.5, 1.0, 0, 0, 1.5, 0.5, 0, 0, 0.5, 1.5, 0, 0.5],
    [7.0] + Z9 + [0, 2.5, 6.5, 11.0, 3.0, 0.5, 0, 0, 2.0, 6.0, 2.0, 0.5, 0, 1.5, 8.5, 3.0, 0.5, 0, 1.0, 3.5, 2.0],
    [8.0] + Z9 + [0.5, 4.0, 10.5, 5.0, 1.5, 0, 0, 0.5, 1.5, 0.5, 0, 2.0, 6.5, 2.0, 0, 0.5, 1.0, 4.5, 10.0, 2.5, 0.5],
    [5.5] + Z9 + [0, 1.0, 2.5, 1.0, 0, 0, 0, 0, 0.5, 2.0, 0.5, 0, 1.0, 4.0, 1.0, 0, 0.5, 0, 2.5, 0.5, 0],
    [6.5] + Z9 + [0, 2.5, 5.0, 12.0, 4.0, 1.0, 0, 0, 3.5, 9.0, 3.0, 1.0, 0, 0.5, 2.0, 5.0, 1.5, 0, 0.5, 1.0, 3.5],
    [7.0] + Z9 + [0, 1.5, 4.0, 1.5, 0, 0, 0, 0, 1.0, 2.5, 1.0, 0, 3.0, 7.5, 2.5, 0, 0, 1.0, 0.5, 2.0, 0.5],
    [4.0] + Z9 + [0, 3.5, 8.0, 2.5, 0, 0, 0, 0, 0.5, 0, 1.5, 4.0, 1.0, 0, 0, 2.0, 5.0, 1.5, 0, 0.5, 0],
    [8.5] + Z9 + [0, 2.0, 6.0, 4.5, 1.0, 0, 0, 1.0, 4.0, 2.0, 0.5, 0, 0.5, 2.0, 0.5, 0, 3.0, 9.0, 13.0, 3.0, 1.0],
    [6.0] + Z9 + [0, 4.5, 9.0, 3.0, 0.5, 0, 0, 0, 0, 1.0, 3.5, 0.5, 0, 0.5, 1.5, 0.5, 0, 0.5, 2.0, 0.5, 0],
    [7.0] + Z9 + [0.5, 3.0, 7.0, 9.5, 2.5, 0, 0, 1.5, 5.0, 2.0, 8.0, 26.0, 6.0, 1.0, 0.5, 3.0, 1.5, 0, 2.5, 5.5, 1.5],
]

member_colors = [
    "#d4a0a8", "#d0a0e0", "#e08080", "#a05030", "#a0d0f0", "#8050b0", "#c0c020", "#e0b050",
    "#80c070", "#20c070", "#c05080", "#c020c0", "#e04060", "#a0b0e0", "#d0b080", "#2060c0",
    "#c0c060", "#b0e050", "#60a0d0", "#60e0f0", "#c04020", "#a0d0a0", "#c040e0", "#207060",
    "#c02020", "#c09070", "#903070", "#603080", "#904050", "#2050a0", "#50c080", "#30e0e0",
    "#6020d0", "#a09040", "#80d080", "#c0e080", "#705020", "#e06060", "#303080", "#40c040",
    "#b0e0c0", "#a02040", "#e090d0", "#6090b0", "#a030c0", "#20e090", "#e0e0a0", "#309090",
    "#508030", "#7050e0",
]

# ---------------- figure ----------------
fig = plt.figure(figsize=(W / 100, H / 100), dpi=100)
fig.patch.set_facecolor("white")


def fx(x):
    return x / W


def fy(y):
    return 1 - y / H


ax = fig.add_axes([fx(50), fy(600), fx(692) - fx(50), fy(0) - fy(600)])
ax.set_xlim(0, 15)
ax.set_ylim(-368 / 7, 232 / 7)
ax2 = ax.twinx()
ax2.set_ylim(-368 / 7 + 45, 232 / 7 + 45)

for a in (ax, ax2):
    for s in ("left", "right", "top"):
        a.spines[s].set_visible(False)
ax2.spines["bottom"].set_visible(False)
ax.spines["bottom"].set_color("black")
ax.spines["bottom"].set_linewidth(1.0)

GRID = "#c0c0c0"
for v in left_ticks:
    if v == 0:
        ax.axhline(v, color="#909090", lw=2.0, zorder=1)
    elif v % 10 == 0:
        ax.axhline(v, color=GRID, lw=2.0, zorder=1)
    else:
        ax.axhline(v, color=GRID, lw=1.2, zorder=1)
for d in range(16):
    ax.axvline(d, color=GRID, lw=1.4, zorder=1)

# ticks
ax.set_yticks(left_ticks)
ax.set_yticklabels([str(v) for v in left_ticks], family=MONO, fontsize=7.3)
ax.tick_params(axis="y", length=0, pad=21.6)
for lab in ax.get_yticklabels():
    lab.set_horizontalalignment("left")
ax2.set_yticks(right_ticks)
ax2.set_yticklabels([str(v) for v in right_ticks], family=MONO, fontsize=7.3)
ax2.tick_params(axis="y", length=0, pad=13)
ax.set_xticks(np.arange(16) + 6 / 42.8)
ax.set_xticklabels(date_labels, rotation=90, family=MONO, fontsize=7.3)
ax.tick_params(axis="x", length=0, pad=1.5)

LW_M = 0.8
MS = 3.0
# members: temperatures (left axis) and precipitation (right axis scale)
for i in range(50):
    c = member_colors[i]
    v = members_850[i]
    ax.plot(days[:len(v)], v, color=c, lw=LW_M, marker="+", ms=MS, mew=0.7, zorder=3)
    v = members_500[i]
    ax.plot(days[:len(v)], v, color=c, lw=LW_M, marker="+", ms=MS, mew=0.7, zorder=3)
    v = members_rr[i]
    ax.plot(precip_days[:len(v)], v, color=c, lw=LW_M, marker="+", ms=MS, mew=0.7, zorder=3,
            transform=ax2.transData)

# control (black) then ensemble mean (red)
ax.plot(days, ctrl_850, color="black", lw=2.9, zorder=5, solid_joinstyle="miter")
ax.plot(days, ctrl_500, color="black", lw=2.9, zorder=5, solid_joinstyle="miter")
ax.plot(precip_days, ctrl_rr, color="black", lw=2.9, zorder=5, transform=ax2.transData)
ax.plot(days, mean_850, color="#ff0000", lw=3.8, zorder=6)
ax.plot(days, mean_500, color="#ff0000", lw=3.8, zorder=6)
ax.plot(precip_days, mean_rr, color="#ff0000", lw=3.8, zorder=6, transform=ax2.transData)

# in-plot labels
ax.text(10 / 42.8, 8.43, "Temp. 850hPa", family=MONO, fontsize=7.3, va="center", ha="left", zorder=7)
ax.text(10 / 42.8, -18.86, "Temp. 500hPa", family=MONO, fontsize=7.3, va="center", ha="left", zorder=7)
ax.text(9 / 42.8, -33.1, "Précipitations", family=MONO, fontsize=7.3, va="center", ha="left", zorder=7)

# units
fig.text(fx(20), fy(606), "(°C)", family=MONO, fontsize=7.3, va="center", ha="left")
fig.text(fx(710), fy(606), "(mm)", family=MONO, fontsize=7.3, va="center", ha="left")

# legend
fig.add_artist(Line2D([fx(35), fx(65)], [fy(640), fy(640)], color="#ff0000", lw=3.6,
                      transform=fig.transFigure, solid_capstyle="butt"))
fig.text(fx(75), fy(639), "Moyenne des scénarios", family=MONO, fontsize=7.3, va="center", ha="left")
fig.add_artist(Line2D([fx(225), fx(255)], [fy(640), fy(640)], color="black", lw=3.6,
                      transform=fig.transFigure, solid_capstyle="butt"))
fig.text(fx(265), fy(639), "Contrôle/Det", family=MONO, fontsize=7.3, va="center", ha="left")
fig.text(fx(265), fy(651), "CEP/ECMWF", family=MONO, fontsize=7.3, va="center", ha="left")
fig.text(fx(370), fy(652), "50 Perts.", family=MONO, fontsize=7.3, va="center", ha="left")

for k in range(25):
    x0 = 430 + 10.95 * k
    for row, (y0, num) in enumerate(((644, k + 1), (651, k + 26))):
        fig.add_artist(Rectangle((fx(x0), fy(y0 + 7)), 10 / W, 7 / H,
                                 facecolor=member_colors[num - 1], edgecolor="none",
                                 transform=fig.transFigure))
    fig.text(fx(x0 + 5), fy(639), f"{k + 1:02d}", family=MONO, fontsize=5.2,
             fontweight="bold", va="center", ha="center")
    fig.text(fx(x0 + 5), fy(663), f"{k + 26:02d}", family=MONO, fontsize=5.2,
             fontweight="bold", va="center", ha="center")

# title box
fig.add_artist(Rectangle((fx(20), fy(699)), 420 / W, 31 / H, facecolor="none",
                         edgecolor="black", lw=1.0, transform=fig.transFigure))
fig.text(fx(30), fy(677), "Diagramme ensembles ECMWF/CEP 0.25° sur 360h pour Montpellier",
         family=MONO, fontsize=8.2, fontweight="bold", va="center", ha="left")
fig.text(fx(30), fy(691), "Températures 850hPa et 500hPa (°C) , précipitations (mm)",
         family=MONO, fontsize=7.3, va="center", ha="left")
fig.text(fx(450), fy(675), "Ensemble ECMWF/CEP du 02/02/2025 - 00Z",
         family=MONO, fontsize=7.3, va="center", ha="left")
fig.text(fx(450), fy(691), "Copyright 2025 Meteociel.fr - ECMWF",
         family=MONO, fontsize=8.2, fontweight="bold", va="center", ha="left")

fig.savefig("out.png", dpi=100, facecolor="white")
